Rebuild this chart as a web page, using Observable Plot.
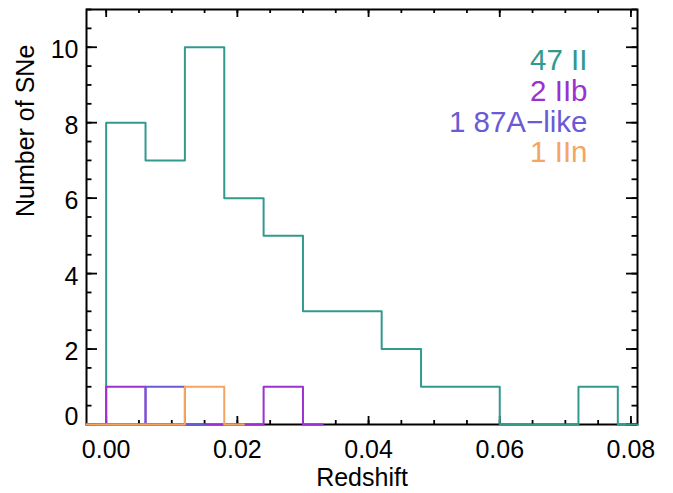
<!DOCTYPE html>
<html><head><meta charset="utf-8">
<script src="https://cdn.jsdelivr.net/npm/d3@7"></script>
<script src="https://cdn.jsdelivr.net/npm/@observablehq/plot@0.6"></script>
<style>
body{margin:0;background:#fff}
svg{font-family:"Liberation Sans",Arial,Helvetica,sans-serif}
</style>
</head><body><div id="chart"></div>
<script>
// Histogram: bins of width 0.006 starting at z = 0
const binStart = 0;
const binWidth = 0.006;
const countsII   = [8, 7, 10, 6, 5, 3, 3, 2, 1, 1, 0, 0, 1];
const countsIIb  = [1, 0, 0, 0, 1];
const counts87A  = [0, 1];
const countsIIn  = [0, 0, 1];
const seriesCounts = [countsII, countsIIb, counts87A, countsIIn];
const legendLabels = ["47 II", "2 IIb", "1 87A\u2212like", "1 IIn"];
const colors = ["#32998d", "#9b31cf", "#6a5ad5", "#f5a563"];

const xMajor = [0, 0.02, 0.04, 0.06, 0.08];
const xMinor = [0, 0.005, 0.01, 0.015, 0.02, 0.025, 0.03, 0.035, 0.04, 0.045, 0.05, 0.055, 0.06, 0.065, 0.07, 0.075, 0.08];
const yMajor = [0, 2, 4, 6, 8, 10];
const yMinor = [0, 0.5, 1, 1.5, 2, 2.5, 3, 3.5, 4, 4.5, 5, 5.5, 6, 6.5, 7, 7.5, 8, 8.5, 9, 9.5, 10, 10.5, 11];

const W = 673, H = 493;
const mL = 86, mR = 36, mT = 9, mB = 69;
const innerW = W - mL - mR, innerH = H - mT - mB;
const font = "Liberation Sans, Arial, Helvetica, sans-serif";
const fs = 25, legendFs = 29.5;

// step outline with half-bin zero padding on both ends
function stepPoints(counts) {
  const pts = [{x: binStart - binWidth / 2, y: 0}];
  counts.forEach((c, i) => pts.push({x: binStart + i * binWidth, y: c}));
  pts.push({x: binStart + counts.length * binWidth, y: 0});
  pts.push({x: binStart + counts.length * binWidth + binWidth / 2, y: 0});
  return pts;
}

const xLen = 8, yLen = 11;
const tw = 1.8;
const marks = [
  Plot.frame({stroke: "black", strokeWidth: 2}),
  // x ticks bottom/top
  Plot.tickX(xMajor, {x: d => d, insetTop: innerH - xLen, stroke: "black", strokeWidth: tw}),
  Plot.tickX(xMajor, {x: d => d, insetBottom: innerH - xLen, stroke: "black", strokeWidth: tw}),
  Plot.tickX(xMinor, {x: d => d, insetTop: innerH - xLen / 2, stroke: "black", strokeWidth: tw}),
  Plot.tickX(xMinor, {x: d => d, insetBottom: innerH - xLen / 2, stroke: "black", strokeWidth: tw}),
  // y ticks left/right
  Plot.tickY(yMajor, {y: d => d, insetRight: innerW - yLen, stroke: "black", strokeWidth: tw}),
  Plot.tickY(yMajor, {y: d => d, insetLeft: innerW - yLen, stroke: "black", strokeWidth: tw}),
  Plot.tickY(yMinor, {y: d => d, insetRight: innerW - yLen / 2, stroke: "black", strokeWidth: tw}),
  Plot.tickY(yMinor, {y: d => d, insetLeft: innerW - yLen / 2, stroke: "black", strokeWidth: tw}),
  // histograms
  ...seriesCounts.map((c, i) => Plot.line(stepPoints(c), {
    x: "x", y: "y", curve: "step-after", stroke: colors[i], strokeWidth: 2
  })),
  // axes labels
  Plot.axisX({ticks: xMajor, tickSize: 0, tickPadding: 16, tickFormat: d3.format(".2f"),
    fontSize: fs, fontFamily: font, fill: "black", label: null}),
  Plot.axisY({ticks: yMajor.filter(d => d > 0), tickSize: 0, tickPadding: 8, dy: 3,
    fontSize: fs, fontFamily: font, fill: "black", label: null}),
  Plot.axisY({ticks: [0], tickSize: 0, tickPadding: 8, dy: -8,
    fontSize: fs, fontFamily: font, fill: "black", label: null}),
  Plot.text(["Redshift"], {frameAnchor: "bottom", dy: 61, lineAnchor: "bottom",
    fontSize: fs, fontFamily: font, fill: "black"}),
  Plot.text(["Number of SNe"], {frameAnchor: "left", dx: -61, rotate: -90,
    fontSize: fs, fontFamily: font, fill: "black"}),
  // legend
  ...legendLabels.map((t, i) => Plot.text([t], {
    frameAnchor: "top-right", dx: -50, dy: 60.5 + i * 30.8, lineAnchor: "bottom",
    textAnchor: "end", fontSize: legendFs, fontFamily: font, fill: colors[i]
  }))
];

const chart = Plot.plot({
  width: W, height: H,
  marginLeft: mL, marginRight: mR, marginTop: mT, marginBottom: mB,
  x: {domain: [-0.003, 0.081], axis: null},
  y: {domain: [0, 11], axis: null},
  style: {fontFamily: font, background: "white", overflow: "visible"},
  marks
});
document.getElementById("chart").appendChild(chart);
</script>
</body></html>
